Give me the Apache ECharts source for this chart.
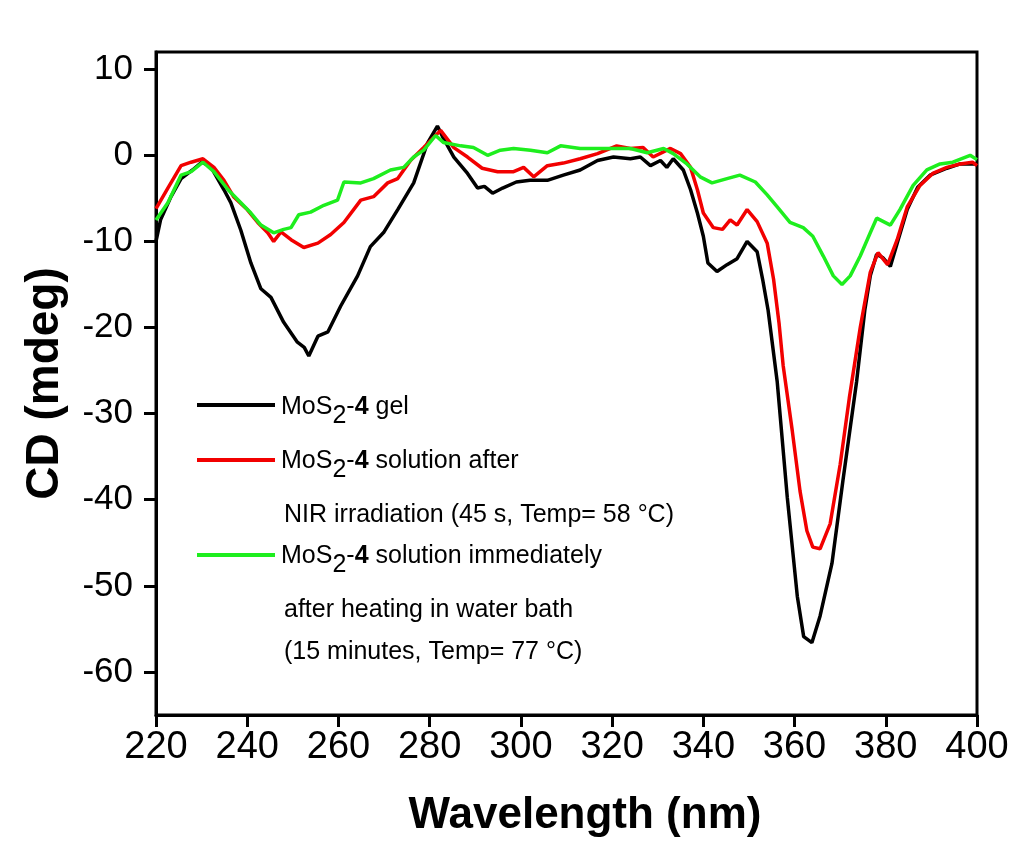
<!DOCTYPE html>
<html>
<head>
<meta charset="utf-8">
<script src="https://cdn.jsdelivr.net/npm/echarts@6/dist/echarts.min.js"></script>
<style>html,body{margin:0;padding:0;background:#fff}#c{width:1024px;height:843px}</style>
</head>
<body>
<div id="c"></div>
<script>
// ---- data ----
var xTicks = [220, 240, 260, 280, 300, 320, 340, 360, 380, 400];
var yTicks = [-60, -50, -40, -30, -20, -10, 0, 10];

var gelX = [220,221,223.3,225.5,228,230,232,234.9,236.4,238.6,240.8,243,245.2,248,251,252.5,253.5,255.5,257.7,260.5,264.2,267,270,273,276.5,279.5,281.7,283,285.3,288.3,290.5,292,293.8,296,299,302,305.8,309.3,313,316.8,320.3,324,326.2,328.4,330.6,332,333.4,335.6,337.2,338.7,340,341,343,345.2,347.4,349.6,351.8,353,354.2,356.2,358.4,360.6,362,363.8,365.6,368.2,370.6,373.6,375.4,376.6,378,379.4,381,382.5,384.7,387,389.7,393.4,396.3,400];
var gelY = [-10,-7.5,-4.8,-2.7,-1.7,-0.8,-1.3,-4,-5.5,-8.7,-12.5,-15.5,-16.5,-19.4,-21.7,-22.3,-23.3,-21,-20.5,-17.5,-14,-10.6,-8.9,-6.3,-3.2,1.4,3.4,2,-0.2,-2.1,-3.8,-3.6,-4.4,-3.8,-3.1,-2.9,-2.9,-2.3,-1.7,-0.6,-0.2,-0.4,-0.2,-1.2,-0.6,-1.4,-0.4,-1.7,-4,-6.7,-9.4,-12.5,-13.5,-12.7,-12,-10,-11.2,-14.4,-18,-26.3,-39.7,-51.2,-55.9,-56.6,-53.5,-47.4,-37.8,-26.3,-18,-14,-11.5,-11.9,-12.9,-10.2,-6.3,-3.7,-2.3,-1.5,-1,-1];

var nirX = [220,222.6,225.5,227.7,230.3,232.7,234.9,237,240,242.3,244.5,245.8,247.4,249.6,252.4,255.5,258.3,261.2,264.9,267.7,270.8,273,275.8,278.7,282.4,285.3,288.3,291.5,294.9,298.4,300.6,302.8,305.8,309.3,313,316.8,321,324,326.8,329,332.8,335,337.2,338.7,340,342.2,344.2,345.9,347.4,349.6,351.8,354,355.4,356.6,357.5,359.5,361.2,362.7,364,365.6,367.8,370,372,374.4,376.6,378.3,380.4,382.5,384.7,387.5,390.3,393.4,396.3,399,400];
var nirY = [-6.2,-3.8,-1.2,-0.8,-0.4,-1.4,-2.9,-4.8,-6.3,-7.8,-9,-10,-8.9,-9.8,-10.7,-10.2,-9.2,-7.8,-5.2,-4.8,-3.2,-2.7,-0.6,0.9,2.9,0.9,-0.2,-1.5,-1.9,-1.9,-1.4,-2.5,-1.2,-0.9,-0.4,0.2,1.1,0.8,0.9,-0.2,0.8,0.2,-1.4,-4,-6.7,-8.4,-8.6,-7.5,-8.1,-6.3,-7.7,-10.2,-14.4,-19.5,-24.4,-32,-39,-43.6,-45.5,-45.7,-42.8,-35.9,-28.2,-20,-13.6,-11.3,-12.7,-9.8,-6,-3.5,-2.1,-1.4,-1,-0.8,-1.2];

var bathX = [220,222.6,225.5,227.7,230.3,232.7,235.8,238.6,240.8,243,245.8,248,249.6,251.3,253.9,256.8,259.8,261.2,264.9,267.7,271.4,274.3,276.5,278.7,281.3,283,286.8,289.6,292.7,295.5,298.4,302.1,305.8,308.7,313,316.8,320.3,324,327.7,331.3,333.4,336.4,339.3,341.9,345.2,348,351.4,354,356.2,359,361.9,364,366.3,368.5,370.4,372.2,374.4,376.6,378,381,383.1,386,389,391.9,394.7,398.5,400];
var bathY = [-7.5,-5.5,-2.3,-1.9,-0.8,-1.9,-4,-5.5,-6.7,-8.1,-9,-8.6,-8.4,-6.9,-6.6,-5.8,-5.2,-3.1,-3.2,-2.7,-1.7,-1.4,-0.2,0.6,2.3,1.5,1.1,0.9,0,0.6,0.8,0.6,0.3,1.1,0.8,0.8,0.8,0.8,0.3,0.8,0.2,-1,-2.5,-3.2,-2.7,-2.3,-3.1,-4.6,-6,-7.8,-8.4,-9.4,-11.7,-14,-15,-14,-11.7,-9,-7.3,-8.1,-6.3,-3.5,-1.7,-1,-0.8,0,-0.5];

var seriesNames = ['MoS2-4 gel', 'MoS2-4 solution after NIR irradiation', 'MoS2-4 solution immediately after heating in water bath'];
var seriesColors = ['#000000', '#f20000', '#1eee1e'];

function zip(xs, ys) { return xs.map(function (x, i) { return [x, ys[i]]; }); }

var FONT = "'Liberation Sans', Arial, sans-serif";
var chart = echarts.init(document.getElementById('c'), null, { renderer: 'canvas' });

var LF = 25;
var rich = {
  n: { fontSize: LF, fontFamily: FONT, color: '#000', verticalAlign: 'top', lineHeight: 28 },
  b: { fontSize: LF, fontFamily: FONT, color: '#000', fontWeight: 'bold', verticalAlign: 'top', lineHeight: 28 },
  s: { fontSize: LF, fontFamily: FONT, color: '#000', verticalAlign: 'top', lineHeight: 28, padding: [9, 0, 0, 0] }
};
function legText(x, y, txt) {
  return { type: 'text', x: x, y: y, z: 100, style: { text: txt, rich: rich, fontSize: LF, fontFamily: FONT, fill: '#000' } };
}
function legLine(y, color) {
  return { type: 'line', z: 100, shape: { x1: 197, y1: y, x2: 275, y2: y }, style: { stroke: color, lineWidth: 4 } };
}

chart.setOption({
  animation: false,
  backgroundColor: '#fff',
  grid: { left: 156, right: 47, top: 52, bottom: 124, show: true, borderColor: '#000', borderWidth: 3, backgroundColor: 'transparent' },
  xAxis: {
    type: 'value', min: 220, max: 400, interval: 20,
    name: 'Wavelength (nm)', nameLocation: 'middle', nameGap: 79,
    nameTextStyle: { fontSize: 44, fontWeight: 'bold', fontFamily: FONT, color: '#000', padding: [0, 0, 0, 37] },
    axisLine: { show: true, onZero: false, lineStyle: { color: '#000', width: 3 } },
    axisTick: { show: true, inside: false, length: 12, lineStyle: { color: '#000', width: 3 } },
    axisLabel: { fontSize: 38, fontFamily: FONT, color: '#000', margin: 14,
      customValues: xTicks },
    splitLine: { show: false }
  },
  yAxis: {
    type: 'value', min: -65, max: 12,
    name: 'CD (mdeg)', nameLocation: 'middle', nameRotate: 90, nameGap: 88,
    nameTextStyle: { fontSize: 46, fontWeight: 'bold', fontFamily: FONT, color: '#000' },
    axisLine: { show: true, onZero: false, lineStyle: { color: '#000', width: 3 } },
    axisTick: { show: true, inside: false, length: 12, lineStyle: { color: '#000', width: 3 }, customValues: yTicks },
    axisLabel: { fontSize: 35, fontFamily: FONT, color: '#000', margin: 23, customValues: yTicks },
    splitLine: { show: false }
  },
  series: [
    { name: seriesNames[0], type: 'line', data: zip(gelX, gelY), showSymbol: false, symbol: 'none', lineStyle: { color: seriesColors[0], width: 3.5 }, itemStyle: { color: seriesColors[0] }, z: 3 },
    { name: seriesNames[1], type: 'line', data: zip(nirX, nirY), showSymbol: false, symbol: 'none', lineStyle: { color: seriesColors[1], width: 3.5 }, itemStyle: { color: seriesColors[1] }, z: 4 },
    { name: seriesNames[2], type: 'line', data: zip(bathX, bathY), showSymbol: false, symbol: 'none', lineStyle: { color: seriesColors[2], width: 3.5 }, itemStyle: { color: seriesColors[2] }, z: 5 }
  ],
  graphic: [
    legLine(405, seriesColors[0]),
    legText(281, 395, '{n|MoS}{s|2}{n|-}{b|4}{n| gel}'),
    legLine(460, seriesColors[1]),
    legText(281, 449, '{n|MoS}{s|2}{n|-}{b|4}{n| solution after}'),
    legText(284, 503, '{n|NIR irradiation (45 s, Temp= 58 °C)}'),
    legLine(555, seriesColors[2]),
    legText(281, 544, '{n|MoS}{s|2}{n|-}{b|4}{n| solution immediately}'),
    legText(284, 598, '{n|after heating in water bath}'),
    legText(284, 640, '{n|(15 minutes, Temp= 77 °C)}')
  ]
});
</script>
</body>
</html>
